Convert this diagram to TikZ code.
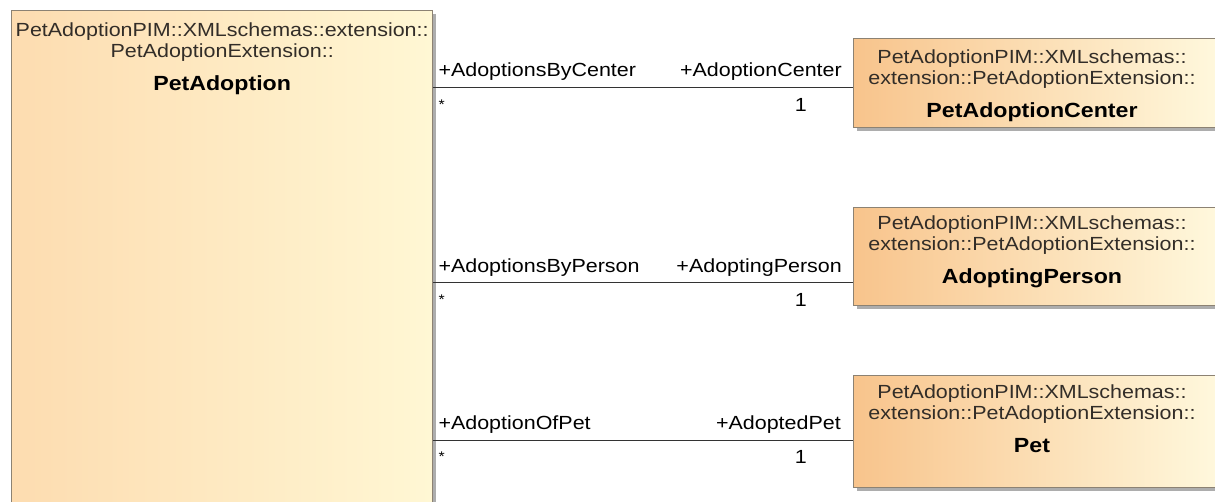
\documentclass[tikz,border=0pt]{standalone}
\usepackage{fontspec}
\setmainfont{Liberation Sans}[FakeStretch=1.13]
\usetikzlibrary{positioning,shadows}

\definecolor{boxedge}{RGB}{140,130,115}
\definecolor{peachA}{RGB}{253,220,176}
\definecolor{creamA}{RGB}{255,247,212}
\definecolor{peachB}{RGB}{248,196,140}
\definecolor{creamB}{RGB}{255,249,222}
\definecolor{titlegray}{RGB}{50,45,40}

\newcommand{\classname}[1]{\textcolor{black}{\fontsize{20.5}{21}\selectfont\textbf{#1}}}

\begin{document}
\begin{tikzpicture}[x=1pt,y=-1pt,
  umlbox/.style={draw=boxedge, line width=1.3pt, anchor=north west, inner sep=0pt,
    drop shadow={shadow xshift=3.5pt, shadow yshift=-3.5pt, fill=black!32, opacity=1}},
  bigbox/.style={umlbox, left color=peachA, right color=creamA},
  classbox/.style={umlbox, left color=peachB, right color=creamB, minimum width=370pt},
  boxtitle/.style={anchor=north, align=center, inner sep=0pt, text=titlegray,
    font=\fontsize{19}{21}\selectfont},
  role/.style={inner sep=0pt, font=\fontsize{19}{21}\selectfont},
  mult/.style={inner sep=0pt, font=\fontsize{19}{21}\selectfont},
  star/.style={inner sep=0pt, font=\fontsize{14}{16}\selectfont}]

\useasboundingbox (0,0) rectangle (1215,502);

% =====================
% Righe dei connettori
% =====================
\def\RowA{88}
\def\RowB{283}
\def\RowC{440}

% =====================
% Classe PetAdoption
% =====================
\node[bigbox, minimum width=421pt, minimum height=505pt] (pim) at (11,10) {};
\node[boxtitle] (pimTitle) at ([yshift=-13pt]pim.north)
  {PetAdoptionPIM::XMLschemas::extension::\\PetAdoptionExtension::\\[12pt]\classname{PetAdoption}};

% =====================
% Classi a destra
% =====================
\node[classbox, minimum height=89pt] (center) at (853,38) {};
\node[boxtitle] (centerTitle) at ([shift={(179,12)}]center.north west)
  {PetAdoptionPIM::XMLschemas::\\extension::PetAdoptionExtension::\\[12pt]\classname{PetAdoptionCenter}};

\node[classbox, minimum height=98pt] (person) at (853,207) {};
\node[boxtitle] (personTitle) at ([shift={(179,9)}]person.north west)
  {PetAdoptionPIM::XMLschemas::\\extension::PetAdoptionExtension::\\[12pt]\classname{AdoptingPerson}};

\node[classbox, minimum height=112pt] (pet) at (853,375) {};
\node[boxtitle] (petTitle) at ([shift={(179,10)}]pet.north west)
  {PetAdoptionPIM::XMLschemas::\\extension::PetAdoptionExtension::\\[12pt]\classname{Pet}};

% =====================
% Associazioni
% =====================
\coordinate (centerIn) at (853,\RowA);
\coordinate (personIn) at (853,\RowB);
\coordinate (petIn) at (853,\RowC);
\coordinate (pimOutA) at (pim.east |- centerIn);
\coordinate (pimOutB) at (pim.east |- personIn);
\coordinate (pimOutC) at (pim.east |- petIn);

\draw[line width=1pt, black!80] (pimOutA) -- (centerIn);
\draw[line width=1pt, black!80] (pimOutB) -- (personIn);
\draw[line width=1pt, black!80] (pimOutC) -- (petIn);

% ruoli e molteplicita
\node[role, anchor=base west] (roleA1) at ([shift={(5,-11)}]pimOutA) {+AdoptionsByCenter};
\node[role, anchor=base east] (roleA2) at ([shift={(-11,-11)}]centerIn) {+AdoptionCenter};
\node[star, anchor=north west] (multA1) at ([shift={(5,12)}]pimOutA) {*};
\node[mult, anchor=north east] (multA2) at ([shift={(-46,10)}]centerIn) {1};

\node[role, anchor=base west] (roleB1) at ([shift={(5,-10)}]pimOutB) {+AdoptionsByPerson};
\node[role, anchor=base east] (roleB2) at ([shift={(-11,-10)}]personIn) {+AdoptingPerson};
\node[star, anchor=north west] (multB1) at ([shift={(5,12)}]pimOutB) {*};
\node[mult, anchor=north east] (multB2) at ([shift={(-46,10)}]personIn) {1};

\node[role, anchor=base west] (roleC1) at ([shift={(5,-11)}]pimOutC) {+AdoptionOfPet};
\node[role, anchor=base east] (roleC2) at ([shift={(-12,-11)}]petIn) {+AdoptedPet};
\node[star, anchor=north west] (multC1) at ([shift={(5,12)}]pimOutC) {*};
\node[mult, anchor=north east] (multC2) at ([shift={(-46,10)}]petIn) {1};

\end{tikzpicture}
\end{document}
